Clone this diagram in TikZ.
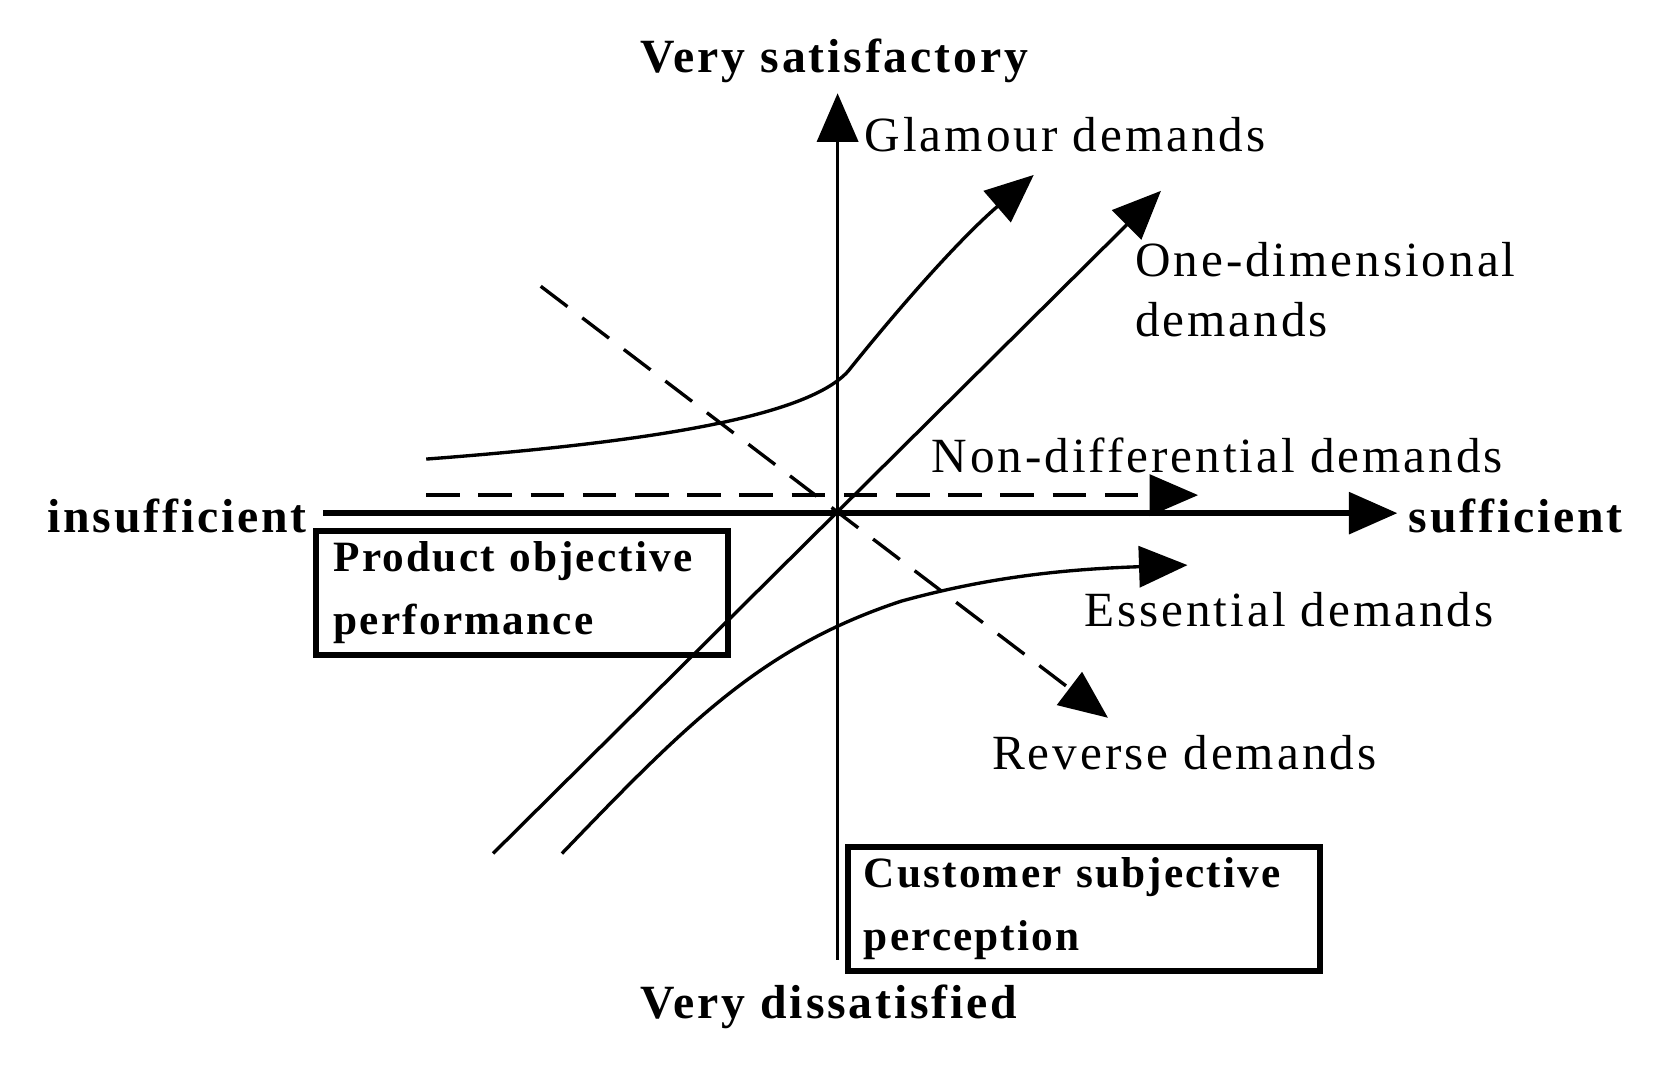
\documentclass[tikz,border=0pt]{standalone}
\usepackage{fontspec}
\setmainfont{Liberation Serif}[LetterSpace=6]
\newfontfamily\boxfont{Liberation Serif}[LetterSpace=5]
\usetikzlibrary{arrows.meta}
\begin{document}
\begin{tikzpicture}[x=0.01cm,y=-0.01cm,
  lbl/.style={font=\fontsize{13.2}{16}\selectfont,inner sep=0pt},
  blbl/.style={font=\fontsize{12.8}{16}\selectfont\bfseries,inner sep=0pt},
  bx/.style={font=\boxfont\fontsize{11.6}{15}\selectfont\bfseries,draw,line width=1.6pt,anchor=north west,align=left,minimum height=1.12cm,inner ysep=0.1cm},
  ln/.style={line width=0.9pt},
  arr/.style={-{Triangle[length=13pt,width=11pt]}},
  dsh/.style={dash pattern=on 9pt off 5pt}]
\useasboundingbox (0,0) rectangle (1560,1004);
\coordinate (O) at (790,484);
\coordinate (yb) at (790,905); \coordinate (yt) at (790,88);
\coordinate (xl) at (305,484); \coordinate (xr) at (1318,484);
\draw[ln,arr] (yb) -- (yt);
\draw[line width=1.6pt,arr] (xl) -- (xr);
\node[blbl,anchor=east] (ins) at (290,487) {insufficient};
\node[blbl,anchor=west] (suf) at (1328,487) {sufficient};
\node[blbl] (vs) at (787,57) {Very satisfactory};
\node[blbl] (vd) at (782,950) {Very dissatisfied};
% glamour
\coordinate (g0) at (402,433); \coordinate (g1) at (975,165);
\draw[ln,arr] (g0) .. controls (600,418) and (760,395) .. (800,350) .. controls (840,300) and (900,230) .. (g1);
\node[lbl,anchor=west] (gl) at (815,127) {Glamour demands};
% one-dimensional
\coordinate (o0) at (465,805); \coordinate (o1) at (1095,180);
\draw[ln,arr] (o0) -- (o1);
\node[lbl,anchor=north west,align=left] (od) at (1070,228) {One-dimensional\\demands};
% non-differential
\coordinate (n0) at (402,467); \coordinate (n1) at (1130,467);
\draw[ln,dsh,arr] (n0) -- (n1);
\node[lbl,anchor=west] (nd) at (878,430) {Non-differential demands};
% reverse
\coordinate (r0) at (510,270); \coordinate (r1) at (1045,677);
\draw[ln,dsh,arr] (r0) -- (r1);
\node[lbl,anchor=west] (rd) at (935,710) {Reverse demands};
% essential
\coordinate (e0) at (530,805); \coordinate (e1) at (1120,533);
\draw[ln,arr] (e0) .. controls (650,680) and (720,610) .. (850,567) .. controls (930,545) and (1000,537) .. (e1);
\node[lbl,anchor=west] (ed) at (1022,575) {Essential demands};
% boxes
\node[bx,text width=3.55cm,inner xsep=0.17cm] (pb) at (295,498) {Product objective\\[2pt]performance};
\node[bx,text width=4.15cm,inner xsep=0.15cm] (cb) at (797,796) {Customer subjective\\[2pt]perception};
\end{tikzpicture}
\end{document}
